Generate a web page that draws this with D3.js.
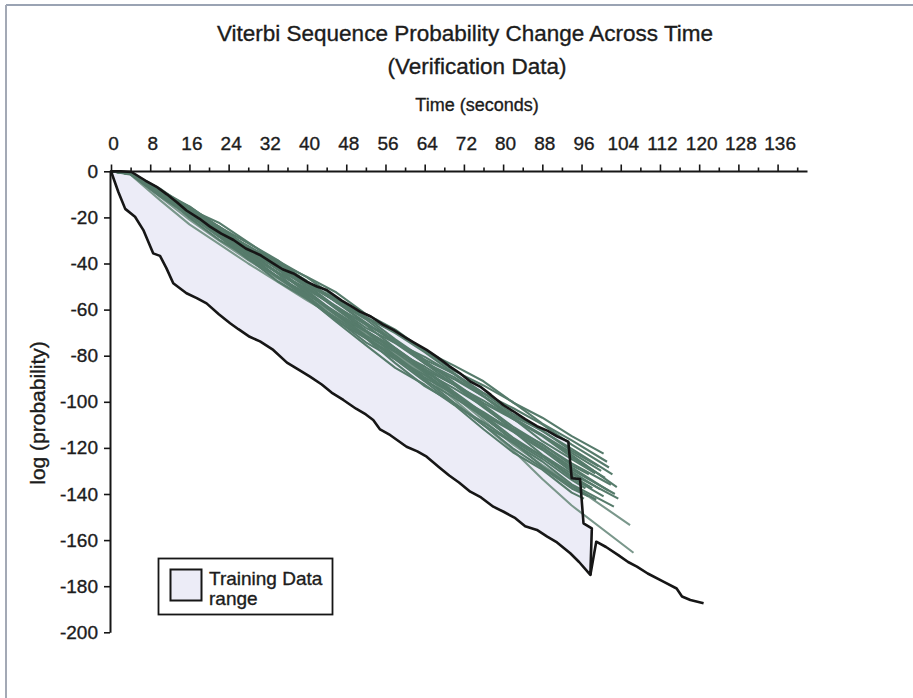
<!DOCTYPE html>
<html>
<head>
<meta charset="utf-8">
<script src="https://cdn.jsdelivr.net/npm/d3@7"></script>
<style>
  html, body { margin: 0; padding: 0; background: #ffffff; }
  svg text { font-family: "Liberation Sans", Arial, sans-serif; fill: #1c1c1c; stroke: #1c1c1c; stroke-width: 0.35px; }
</style>
</head>
<body>
<svg id="chart" width="913" height="698"></svg>
<script>
// ---- data -------------------------------------------------------------
// x tick values (seconds) and y tick values (log probability)
const xTickValues = d3.range(0, 141, 4);
const xLabelValues = d3.range(0, 137, 8);
const yTickValues = d3.range(0, -201, -20);

// Training data: upper (best) and lower (worst) log probability envelopes
const trainMaxTime  = [0, 2, 4.2, 7, 9.5, 11.4, 13.5, 15.4, 18, 20.2, 22.5, 25, 27.5, 30.4, 33, 35, 37.2, 40, 42, 44, 47, 49, 50.8, 53, 55.5, 57.6, 60, 62, 64.4, 66.5, 69, 71.2, 73.3, 75.3, 77.5, 80.1, 82, 84.5, 86.9, 89, 91, 93.3, 94, 95.7, 96.4, 98.1];
const trainMaxValue = [0, 0, -0.3, -4, -7, -10, -13.5, -17, -20.5, -24, -27, -29.8, -33.5, -36.3, -39.8, -42.5, -44.3, -48, -50, -51.5, -56, -58.5, -60.9, -63, -66.5, -68.8, -72, -74.5, -77.5, -80.5, -84.5, -87.6, -91.2, -93.4, -97, -101.5, -104, -107.5, -110.6, -112.5, -115, -117.3, -133.2, -133.5, -152.7, -154.9];

const trainMinTime  = [0, 1.5, 2.9, 4.9, 6.6, 8.6, 10, 11.3, 12.7, 15.4, 17.5, 19.5, 22, 24.3, 26, 28.3, 30.4, 33.1, 35.9, 38.6, 40.6, 43, 45, 47.4, 50, 52, 53.5, 54.9, 57, 60.3, 62.5, 64.4, 67, 69, 71, 73.3, 75.5, 78, 80.1, 82.5, 84.5, 86.9, 89, 91, 93.7, 95.5, 97.8];
const trainMinValue = [0, -9, -16.3, -19.7, -25.5, -35.6, -36.7, -42, -48.6, -52.9, -55, -57.3, -62, -65.9, -68.5, -71.8, -73.8, -77.5, -83, -86.5, -89.1, -92.5, -96, -99.2, -103, -105.5, -107.9, -112, -114.5, -119.5, -121.5, -123.8, -128.5, -132, -135, -139, -141.5, -145.5, -147.7, -150.5, -154, -155.6, -158.5, -161, -165.7, -169.5, -175.1];

// the single longest training sequence after the others have ended
const trainTailTime  = [97.8, 99, 101, 103.5, 105.5, 107.3, 109.5, 112.7, 115.4, 116.5, 118.2, 120.9];
const trainTailValue = [-175.1, -160.7, -163, -166.5, -169.5, -171.5, -174.5, -178, -181, -184.5, -186, -187.4];

// Verification sequences, sampled on a common time grid plus a final point
const timeGrid = [0, 4, 10, 16, 22, 28, 34, 40, 46, 52, 58, 64, 70, 76, 82, 88, 94];
const verificationRuns = [
  [0, -0.6, -7.5, -16.4, -22.3, -30.8, -39.6, -45.8, -52.6, -61.9, -68.7, -77.9, -84.3, -91.1, -100.3, -106.9, -114.9],
  [0, -0.9, -9.0, -15.2, -24.3, -32.8, -38.8, -46.0, -55.0, -63.6, -69.6, -77.7, -86.6, -92.9, -100.1, -109.5, -116.7],
  [0, -0.7, -8.1, -15.3, -24.0, -31.2, -38.5, -48.2, -56.8, -63.2, -70.2, -78.5, -87.7, -96.3, -102.7, -109.8, -118.6],
  [0, -1.2, -9.6, -16.8, -23.9, -33.2, -41.9, -48.3, -55.6, -63.2, -72.9, -81.7, -87.9, -96.2, -105.3, -112.7, -120.4],
  [0, -0.7, -8.1, -17.6, -25.9, -32.4, -39.9, -47.6, -56.9, -65.7, -74.4, -80.5, -88.0, -97.4, -106.2, -112.5, -121.3],
  [0, -0.7, -8.0, -17.5, -24.0, -33.0, -42.4, -49.0, -56.4, -66.3, -73.6, -83.4, -90.2, -97.6, -107.4, -114.5, -123.1],
  [0, -0.7, -8.5, -16.0, -25.1, -32.7, -40.3, -50.4, -59.3, -66.1, -73.5, -82.1, -91.7, -100.6, -107.4, -114.9, -124.0],
  [0, -1.0, -9.6, -16.4, -25.9, -35.0, -41.6, -49.3, -58.9, -67.9, -74.5, -83.2, -92.6, -99.5, -107.1, -117.1, -124.9],
  [0, -1.2, -10.1, -17.7, -25.2, -34.9, -44.0, -50.9, -58.6, -66.6, -76.7, -85.9, -92.6, -101.3, -110.8, -118.6, -126.7],
  [0, -0.7, -8.6, -18.4, -27.2, -34.1, -42.0, -50.2, -59.8, -69.1, -78.2, -84.7, -92.7, -102.4, -111.7, -118.4, -127.6],
  [0, -0.7, -8.4, -18.3, -25.1, -34.5, -44.2, -51.2, -59.0, -69.2, -76.9, -87.0, -94.2, -102.0, -112.1, -119.6, -128.5],
  [0, -0.7, -9.0, -16.9, -26.4, -34.4, -42.4, -53.0, -62.3, -69.5, -77.3, -86.3, -96.4, -105.7, -112.9, -120.8, -130.3],
  [0, -1.0, -10.0, -17.2, -27.2, -36.7, -43.7, -51.8, -61.8, -71.3, -78.3, -87.4, -97.2, -104.5, -112.6, -123.0, -131.2],
  [0, -1.2, -10.5, -18.5, -26.3, -36.4, -45.8, -53.1, -61.2, -69.5, -80.0, -89.5, -96.6, -105.7, -115.5, -123.7, -132.1],
  [0, -0.7, -9.0, -19.2, -28.3, -35.6, -43.8, -52.4, -62.4, -72.0, -81.5, -88.3, -96.7, -106.8, -116.4, -123.5, -133.0],
  [0, -0.7, -8.8, -19.0, -26.2, -36.0, -46.0, -53.4, -61.5, -72.1, -80.2, -90.6, -98.2, -106.3, -116.8, -124.7, -133.9],
  [0, -0.8, -9.4, -17.7, -27.6, -35.9, -44.3, -55.2, -64.9, -72.5, -80.6, -90.0, -100.4, -110.1, -117.7, -125.9, -135.8],
  [0, -1.1, -10.4, -18.0, -28.3, -38.2, -45.6, -54.0, -64.4, -74.2, -81.6, -91.1, -101.2, -108.9, -117.3, -128.1, -136.7],
  [0, -1.3, -10.9, -19.2, -27.4, -37.8, -47.7, -55.3, -63.7, -72.4, -83.2, -93.2, -100.6, -110.0, -120.2, -128.7, -137.6],
  [0, -0.8, -9.4, -20.1, -29.6, -37.3, -46.0, -54.9, -65.4, -75.4, -85.3, -92.6, -101.3, -111.9, -121.9, -129.4, -139.4],
  [0, -1.2, -9.8, -17.1, -24.3, -33.7, -42.5, -49.1, -56.5, -64.2, -74.0, -82.9, -89.3, -97.7, -106.9, -114.4, -122.2],
  [0, -0.7, -8.9, -16.8, -26.3, -34.1, -42.1, -52.6, -61.9, -69.1, -76.7, -85.7, -95.7, -105.0, -112.2, -119.9, -129.4],
  [0, -1.5, -12.5, -23.0, -31.5, -40.0, -48.0, -56.0, -63.5, -71.5, -79.5, -88.0, -97.5, -108.0, -118.5, -127.5, -136.0],
  [0, -1.0, -11.0, -21.0, -30.0, -38.5, -46.5, -54.5, -62.5, -70.5, -79.0, -88.5, -99.0, -110.0, -121.0, -133.5, -145.0]
];
const runEndTime  = [100.5, 101.2, 101.6, 102.3, 99.5, 103.2, 100.8, 98.8, 102, 97.5, 101.5, 99.8, 103.5, 98.2, 100.5, 96.8, 102.6, 99, 97.4, 96.5, 100, 102.8, 105.9, 106.6];
const runEndValue = [-122.5, -126, -128.5, -131.5, -128, -137, -133, -131, -136, -131.5, -138.5, -138, -142, -137.5, -141, -137.5, -145.5, -142.5, -141, -142, -130, -140, -153.5, -165.5];
const runPale     = [false, false, false, false, false, false, false, false, false, false, false, false, false, false, false, false, false, false, false, false, false, false, true, true];

// ---- layout -----------------------------------------------------------
const svg = d3.select("#chart");
const x = d3.scaleLinear().domain([0, 142]).range([111, 807]);
const y = d3.scaleLinear().domain([0, -200]).range([171.3, 632.3]);

const ink = "#161616";
const rangeFill = "#ececf7";
const runColor = "#567b6b";
const paleColor = "#7a978b";

// page frame
svg.append("line").attr("x1", 6).attr("y1", 5).attr("x2", 913).attr("y2", 5)
  .attr("stroke", "#9aa3b3").attr("stroke-width", 2);
svg.append("line").attr("x1", 6).attr("y1", 5).attr("x2", 6).attr("y2", 698)
  .attr("stroke", "#a3a9b5").attr("stroke-width", 2);

// titles
svg.append("text").attr("x", 465).attr("y", 41).attr("text-anchor", "middle")
  .style("font-size", "22.5px").text("Viterbi Sequence Probability Change Across Time");
svg.append("text").attr("x", 477).attr("y", 74).attr("text-anchor", "middle")
  .style("font-size", "22.5px").text("(Verification Data)");
svg.append("text").attr("x", 477).attr("y", 111).attr("text-anchor", "middle")
  .style("font-size", "18px").text("Time (seconds)");
svg.append("text").attr("transform", "translate(45,413) rotate(-90)")
  .attr("text-anchor", "middle").style("font-size", "21px").text("log (probability)");

// ---- training range (filled envelope) ---------------------------------
const maxPts = trainMaxTime.map((t, i) => [t, trainMaxValue[i]]);
const minPts = trainMinTime.map((t, i) => [t, trainMinValue[i]]);
const envelope = maxPts.concat(minPts.slice().reverse());
const line = d3.line().x(d => x(d[0])).y(d => y(d[1]));

svg.append("path")
  .attr("d", line(envelope) + "Z")
  .attr("fill", rangeFill).attr("stroke", "none");

// ---- verification runs ------------------------------------------------
const runs = verificationRuns.map((vals, i) => {
  const pts = timeGrid.map((t, j) => [t, vals[j]]);
  pts.push([runEndTime[i], runEndValue[i]]);
  return { pts, pale: runPale[i] };
});
svg.append("g").selectAll("path")
  .data(runs.slice().sort((a, b) => (b.pale ? 1 : 0) - (a.pale ? 1 : 0)))
  .join("path")
  .attr("d", d => line(d.pts))
  .attr("fill", "none")
  .attr("stroke", d => d.pale ? paleColor : runColor)
  .attr("stroke-width", 2.1)
  .attr("stroke-linejoin", "round");

// envelope outline on top
svg.append("path")
  .attr("d", line(envelope) + "Z")
  .attr("fill", "none").attr("stroke", ink).attr("stroke-width", 2.6)
  .attr("stroke-linejoin", "round");
svg.append("path")
  .attr("d", line(trainTailTime.map((t, i) => [t, trainTailValue[i]])))
  .attr("fill", "none").attr("stroke", ink).attr("stroke-width", 2.6)
  .attr("stroke-linejoin", "round");

// ---- axes -------------------------------------------------------------
const xAxis = d3.axisTop(x)
  .tickValues(xTickValues)
  .tickSize(6).tickSizeOuter(0).tickPadding(15)
  .tickFormat(d => (d % 8 === 0 && d <= 136) ? String(d) : "");
const gx = svg.append("g").attr("transform", "translate(0,171)").call(xAxis);
gx.selectAll(".tick line").attr("y2", d => d % 8 === 0 ? -6.5 : -3.5);
gx.selectAll(".tick text").attr("dx", 2).style("font-size", "19px");

const yAxis = d3.axisLeft(y)
  .tickValues(yTickValues)
  .tickSize(6).tickSizeOuter(0).tickPadding(6)
  .tickFormat(d => String(d));
const gy = svg.append("g").attr("transform", "translate(110,0)").call(yAxis);
gy.selectAll(".tick text").style("font-size", "19px");

[gx, gy].forEach(g => {
  g.select(".domain").attr("stroke", ink).attr("stroke-width", 2);
  g.selectAll(".tick line").attr("stroke", ink).attr("stroke-width", 1.6);
  g.selectAll(".tick text").attr("fill", "#1c1c1c")
    .style("font-family", "'Liberation Sans', Arial, sans-serif");
});

// ---- legend -----------------------------------------------------------
const legend = svg.append("g");
legend.append("rect").attr("x", 158.5).attr("y", 558.5).attr("width", 174).attr("height", 56)
  .attr("fill", "#ffffff").attr("stroke", ink).attr("stroke-width", 1.8);
legend.append("rect").attr("x", 170.5).attr("y", 569.5).attr("width", 31).attr("height", 31)
  .attr("fill", rangeFill).attr("stroke", ink).attr("stroke-width", 2);
legend.append("text").attr("x", 209).attr("y", 585).style("font-size", "19px").text("Training Data");
legend.append("text").attr("x", 209).attr("y", 605).style("font-size", "19px").text("range");
</script>
</body>
</html>
